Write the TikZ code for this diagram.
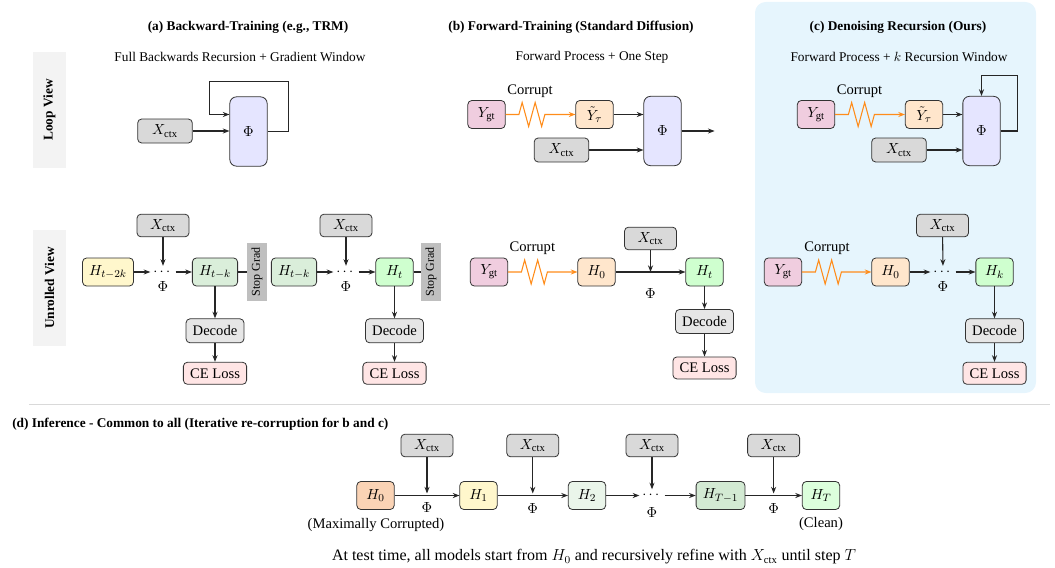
\documentclass[tikz,border=0pt]{standalone}
\usepackage{fontspec}
\setmainfont{Liberation Serif}
\usepackage{amsmath}
\usetikzlibrary{arrows.meta,calc,positioning,decorations.pathmorphing}
\definecolor{ctxgray}{HTML}{D9D9D9}
\definecolor{phiblue}{HTML}{E5E5FF}
\definecolor{hyellow}{HTML}{FFF7CC}
\definecolor{hgreen}{HTML}{DAEEDA}
\definecolor{hbright}{HTML}{CFFFCF}
\definecolor{decgray}{HTML}{E6E6E6}
\definecolor{losspink}{HTML}{FFE5E5}
\definecolor{ygtpink}{HTML}{F0CDDF}
\definecolor{hpeach}{HTML}{FFE6CC}
\definecolor{hpeachdark}{HTML}{FAD3B5}
\definecolor{hpale}{HTML}{EAF5EA}
\definecolor{hmid}{HTML}{D3EAD3}
\definecolor{hclean}{HTML}{DCFFDC}
\definecolor{sggray}{HTML}{BFBFBF}
\definecolor{sidegray}{HTML}{F3F3F3}
\definecolor{panelc}{HTML}{E6F5FD}
\definecolor{zigorange}{HTML}{FF8C1A}
\definecolor{sepgray}{HTML}{D9D9D9}
\tikzset{
  block/.style={
    draw=black!80,
    line width=0.6pt,
    rounded corners=3pt,
    inner xsep=5pt,
    inner ysep=3pt,
    align=center
  },
  ctx/.style={block, fill=ctxgray, minimum width=39pt, minimum height=17pt},
  ctxloop/.style={ctx, minimum width=41pt, minimum height=18pt},
  phi/.style={block, fill=phiblue, rounded corners=5pt, minimum width=28pt, minimum height=52pt},
  hnode/.style={block, inner xsep=5pt, minimum width=28pt, minimum height=21pt},
  decode/.style={block, fill=decgray, minimum width=41pt, minimum height=18pt},
  loss/.style={block, fill=losspink, minimum width=46pt, minimum height=16.5pt},
  stopgrad/.style={fill=sggray, rotate=90, minimum width=43.5pt, minimum height=15pt, inner sep=1pt, font=\fontsize{9}{11}\selectfont},
  viewlabel/.style={fill=sidegray, rotate=90, minimum width=87pt, minimum height=24.75pt, font=\bfseries},
  dotnode/.style={inner sep=2pt},
  heading/.style={font=\bfseries},
  subheading/.style={font=\fontsize{10}{12}\selectfont},
  line/.style={
    -{Stealth[length=5pt,width=3.8pt]},
    line width=0.8pt,
    draw=black!85
  },
  plain/.style={line width=0.8pt, draw=black!85},
  corrupt/.style={
    draw=zigorange,
    line width=0.8pt,
    -{Stealth[length=5pt,width=3.8pt]},
    decorate,
    decoration={zigzag, segment length=9.75pt, amplitude=9pt, pre length=10pt, post length=21pt}
  }
}
\begin{document}
\begin{tikzpicture}[x=0.75pt, y=-0.75pt, font=\fontsize{10.95}{13.6}\selectfont]
  \useasboundingbox (0,0) rectangle (1055,567);
  % highlight for (c)
  \fill[panelc, rounded corners=8pt] (755,2) rectangle (1036,393);

  % headings
  \node[heading] (ttlA) at (248,27) {(a) Backward-Training (e.g., TRM)};
  \node[subheading] (subA) at (240,57) {Full Backwards Recursion + Gradient Window};
  \node[heading] (ttlB) at (571,27) {(b) Forward-Training (Standard Diffusion)};
  \node[subheading] (subB) at (592,57) {Forward Process + One Step};
  \node[heading] (ttlC) at (898,27) {(c) Denoising Recursion (Ours)};
  \node[subheading] (subC) at (899,57) {Forward Process + $k$ Recursion Window};

  \node[viewlabel] (loopLbl) at (49.5,110) {Loop View};
  \node[viewlabel] (unrLbl) at (49.5,288) {Unrolled View};

  % (a) loop view
  \node[ctxloop] (aX) at (165,131) {$X_{\mathrm{ctx}}$};
  \node[phi] (aPhi) at (248.5,131.5) {$\Phi$};
  \draw[line] (aX) -- (aX -| aPhi.west);
  \draw[line] (aPhi.east) -- ++(21,0) -- ++(0,-50) -- ++(-79,0) |- ($(aPhi.west)+(0,-17)$);

  % (a) unrolled view
  \node[hnode, fill=hyellow] (aH1) at (108,272) {$H_{t-2k}$};
  \node[dotnode] (aD1) at (163,272) {$\cdots$};
  \node[ctx] (aX1) at (163,225.5) {$X_{\mathrm{ctx}}$};
  \node (aP1) at (163,287) {$\Phi$};
  \node[hnode, fill=hgreen] (aH2) at (215,272) {$H_{t-k}$};
  \node[stopgrad] (aSG1) at (257,272) {Stop Grad};
  \node[decode, below=24pt of aH2] (aDec1) {Decode};
  \node[loss, below=14pt of aDec1] (aCE1) {CE Loss};

  \node[hnode, fill=hgreen] (aH3) at (294,272) {$H_{t-k}$};
  \node[dotnode] (aD2) at (346,272) {$\cdots$};
  \node[ctx] (aX2) at (346,225.5) {$X_{\mathrm{ctx}}$};
  \node (aP2) at (346,287) {$\Phi$};
  \node[hnode, fill=hbright] (aH4) at (394.5,272) {$H_t$};
  \node[stopgrad] (aSG2) at (431,272) {Stop Grad};
  \node[decode, below=24pt of aH4] (aDec2) {Decode};
  \node[loss, below=14pt of aDec2] (aCE2) {CE Loss};

  \draw[line] (aH1) -- (aD1);
  \draw[line] (aD1) -- (aH2);
  \draw[line] (aX1) -- (aD1);
  \draw[plain] (aH2) -- (aSG1);
  \draw[line] (aH2) -- (aDec1);
  \draw[line] (aDec1) -- (aCE1);
  \draw[line] (aH3) -- (aD2);
  \draw[line] (aD2) -- (aH4);
  \draw[line] (aX2) -- (aD2);
  \draw[plain] (aH4) -- (aSG2);
  \draw[line] (aH4) -- (aDec2);
  \draw[line] (aDec2) -- (aCE2);

  % (b) loop view
  \node[hnode, fill=ygtpink] (bY) at (486.5,114.5) {$Y_{\mathrm{gt}}$};
  \node[hnode, fill=hpeach] (bYt) at (594.5,114.5) {$\tilde{Y}_\tau$};
  \node (bCor1) at ($(bY.east)!0.35!(bYt.west)+(0,-23)$) {Corrupt};
  \node[ctxloop] (bX) at (561.5,150) {$X_{\mathrm{ctx}}$};
  \node[phi] (bPhi) at (662.5,131) {$\Phi$};
  \coordinate[right=24.75pt of bPhi.east] (bOut);
  \draw[corrupt] (bY) -- (bYt);
  \draw[line] (bYt) -- (bYt -| bPhi.west);
  \draw[line] (bX) -- (bX -| bPhi.west);
  \draw[line] (bPhi.east) -- (bOut);

  % (b) unrolled view
  \node[hnode, fill=ygtpink] (bY2) at (489,272) {$Y_{\mathrm{gt}}$};
  \node[hnode, fill=hpeach] (bH0) at (596.5,272) {$H_0$};
  \node (bCor2) at ($(bY2.east)!0.35!(bH0.west)+(0,-24)$) {Corrupt};
  \node[ctx] (bX2) at (650.5,238.5) {$X_{\mathrm{ctx}}$};
  \node[hnode, fill=hbright] (bHt) at (704.5,272) {$H_t$};
  \coordinate (bM) at (bX2 |- bH0);
  \node (bP) at (650.5,294) {$\Phi$};
  \node[decode, below=17pt of bHt] (bDec) {Decode};
  \node[loss, below=17pt of bDec] (bCE) {CE Loss};
  \draw[corrupt] (bY2) -- (bH0);
  \draw[line] (bH0) -- (bHt);
  \draw[line] (bX2) -- (bM);
  \draw[line] (bHt) -- (bDec);
  \draw[line] (bDec) -- (bCE);

  % (c) loop view
  \node[hnode, fill=ygtpink] (cY) at (816,114.5) {$Y_{\mathrm{gt}}$};
  \node[hnode, fill=hpeach] (cYt) at (924,114.5) {$\tilde{Y}_\tau$};
  \node (cCor1) at ($(cY.east)!0.35!(cYt.west)+(0,-23)$) {Corrupt};
  \node[ctxloop] (cX) at (899,150) {$X_{\mathrm{ctx}}$};
  \node[phi] (cPhi) at (981.5,131) {$\Phi$};
  \draw[corrupt] (cY) -- (cYt);
  \draw[line] (cYt) -- (cYt -| cPhi.west);
  \draw[line] (cX) -- (cX -| cPhi.west);
  \draw[line] (cPhi.east) -- ++(17,0) |- ($(cPhi.north)+(0,-20)$) -- (cPhi.north);

  % (c) unrolled view
  \node[hnode, fill=ygtpink] (cY2) at (783,272) {$Y_{\mathrm{gt}}$};
  \node[hnode, fill=hpeach] (cH0) at (890.5,272) {$H_0$};
  \node (cCor2) at ($(cY2.east)!0.36!(cH0.west)+(0,-24)$) {Corrupt};
  \node[dotnode] (cD) at (943,272) {$\cdots$};
  \node[ctx] (cX2) at (942.5,225.5) {$X_{\mathrm{ctx}}$};
  \node (cP) at (943,287) {$\Phi$};
  \node[hnode, fill=hbright] (cHk) at (994.5,272) {$H_k$};
  \node[decode, below=24pt of cHk] (cDec) {Decode};
  \node[loss, below=14pt of cDec] (cCE) {CE Loss};
  \draw[corrupt] (cY2) -- (cH0);
  \draw[line] (cH0) -- (cD);
  \draw[line] (cD) -- (cHk);
  \draw[line] (cX2) -- (cD);
  \draw[line] (cHk) -- (cDec);
  \draw[line] (cDec) -- (cCE);

  % (d) inference
  \draw[sepgray, line width=0.6pt] (29,404) -- (1050,404);
  \node[heading, anchor=west, inner xsep=0pt] (ttlD) at (12,424) {(d) Inference - Common to all (Iterative re-corruption for b and c)};

  \node[hnode, fill=hpeachdark] (dH0) at (375.5,495.5) {$H_0$};
  \node[hnode, fill=hyellow] (dH1) at (478.5,495.5) {$H_1$};
  \node[hnode, fill=hpale] (dH2) at (587,495.5) {$H_2$};
  \node[dotnode] (dD) at (652,495.5) {$\cdots$};
  \node[hnode, fill=hmid] (dHT1) at (720.5,495.5) {$H_{T-1}$};
  \node[hnode, fill=hclean] (dHT) at (821,495.5) {$H_T$};

  \coordinate (dM1) at ($(dH0.east)!0.5!(dH1.west)$);
  \coordinate (dM2) at ($(dH1.east)!0.5!(dH2.west)$);
  \coordinate (dM4) at ($(dHT1.east)!0.5!(dHT.west)$);
  \node[ctx] (dX1) at (dM1 |- 0,445.5) {$X_{\mathrm{ctx}}$};
  \node[ctx] (dX2) at (dM2 |- 0,445.5) {$X_{\mathrm{ctx}}$};
  \node[ctx] (dX3) at (dD |- 0,445.5) {$X_{\mathrm{ctx}}$};
  \node[ctx] (dX4) at (dM4 |- 0,445.5) {$X_{\mathrm{ctx}}$};

  \node (dP1) at (dM1 |- 0,508) {$\Phi$};
  \node (dP2) at (dM2 |- 0,509) {$\Phi$};
  \node (dP3) at (dD |- 0,513) {$\Phi$};
  \node (dP4) at (dM4 |- 0,509) {$\Phi$};
  \node (dNote0) at (376,525) {(Maximally Corrupted)};
  \node (dNoteT) at (821,524) {(Clean)};

  \draw[line] (dH0) -- (dH1);
  \draw[line] (dH1) -- (dH2);
  \draw[line] (dH2) -- (dD);
  \draw[line] (dD) -- (dHT1);
  \draw[line] (dHT1) -- (dHT);
  \draw[line, shorten >=1.5pt] (dX1) -- (dM1);
  \draw[line, shorten >=1.5pt] (dX2) -- (dM2);
  \draw[line] (dX3) -- (dD);
  \draw[line, shorten >=1.5pt] (dX4) -- (dM4);

  \node[font=\fontsize{12}{14}\selectfont] (cap) at (594,557) {At test time, all models start from $H_0$ and recursively refine with $X_{\mathrm{ctx}}$ until step $T$};
\end{tikzpicture}
\end{document}
